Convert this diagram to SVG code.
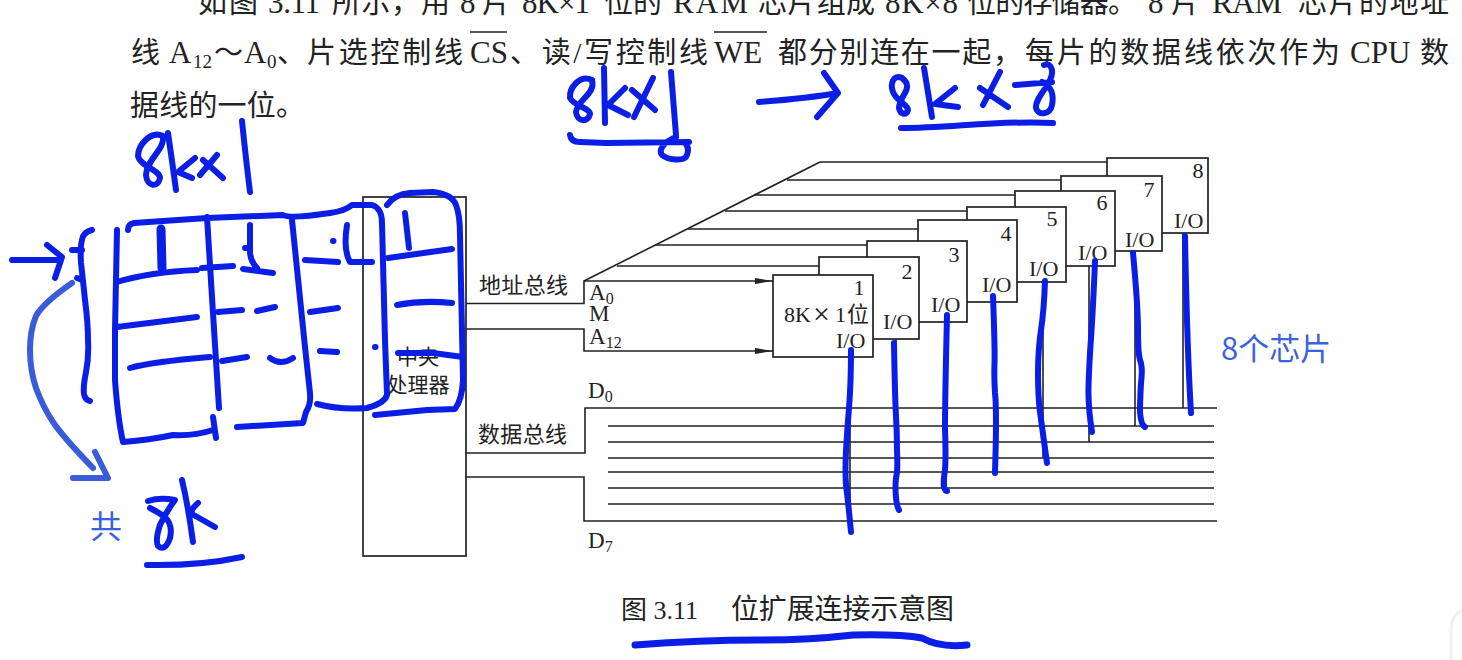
<svg xmlns="http://www.w3.org/2000/svg" width="1462" height="660" viewBox="0 0 1462 660">
<style>
text{font-family:"Liberation Serif","Noto Sans CJK SC",serif;fill:#222}
.b{font-size:29px}
.e{font-size:31px}
.s{font-size:19px}
.l{font-size:22px}
.a{font-size:23px}
.u{font-size:16px}
.c{font-size:21px}
.w{fill:none;stroke:#222;stroke-width:1.6}
.chip{fill:#fff;stroke:#222;stroke-width:1.7}
.ink{fill:none;stroke:#0a1ee6;stroke-width:6;stroke-linecap:round;stroke-linejoin:round}
.lt{fill:none;stroke:#3a5cd8;stroke-width:6;stroke-linecap:round;stroke-linejoin:round}
.n{text-anchor:middle}
.sans{font-family:"Noto Sans CJK SC","Noto Sans",sans-serif;fill:#3a62dc}
</style>
<defs>
<marker id="ah" markerUnits="userSpaceOnUse" markerWidth="18" markerHeight="8" refX="18" refY="4" orient="auto"><path d="M0,1 L18,4 L0,7 Z" fill="#222"/></marker>
</defs>
<rect width="1462" height="660" fill="#fff"/>
<path d="M1462,610Q1451,616 1451,630V660" fill="none" stroke="#efefef" stroke-width="3"/>
<g id="paragraph">
<text class="b" x="198" y="13" textLength="60">如图</text>
<text class="e" x="268" y="13" textLength="52">3.11</text>
<text class="b" x="332" y="13" textLength="88">所示，</text>
<text class="b" x="421" y="13">用</text>
<text class="e" x="460" y="13">8</text>
<text class="b" x="482" y="13">片</text>
<text class="e" x="522" y="13" textLength="68">8K×1</text>
<text class="b" x="604" y="13" textLength="58">位的</text>
<text class="e" x="673" y="13" textLength="75">RAM</text>
<text class="b" x="758" y="13" textLength="117">芯片组成</text>
<text class="e" x="885" y="13" textLength="73">8K×8</text>
<text class="b" x="967" y="13" textLength="170">位的存储器。</text>
<text class="e" x="1148" y="13">8</text>
<text class="b" x="1171" y="13">片</text>
<text class="e" x="1212" y="13" textLength="70">RAM</text>
<text class="b" x="1298" y="13" textLength="151">芯片的地址</text>
<text class="b" x="131" y="63">线</text>
<text class="e" x="169" y="63">A</text>
<text class="s" x="193" y="68">12</text>
<text class="b" x="214" y="63">～</text>
<text class="e" x="244" y="63">A</text>
<text class="s" x="267" y="68">0</text>
<text class="b" x="277" y="63">、</text>
<text class="b" x="307" y="63" textLength="156">片选控制线</text>
<text class="e" x="470" y="63">CS</text>
<text class="b" x="510" y="63" textLength="198">、读/写控制线</text>
<text class="e" x="714" y="63">WE</text>
<text class="b" x="778" y="63" textLength="244">都分别连在一起，</text>
<text class="b" x="1025" y="63" textLength="315">每片的数据线依次作为</text>
<text class="e" x="1350" y="63">CPU</text>
<text class="b" x="1420" y="63">数</text>
<path class="w" d="M470,32H507M714,32H767"/>
<text class="b" x="130" y="116" textLength="175">据线的一位。</text>
</g>
<g id="connectors">
<path class="w" d="M820,162H1107M787,180H1061M755,195H1015M725,211H967M688,229H918M655,245H867M617,266H819"/>
<path class="w" d="M584,281L820,162"/>
<path class="w" d="M466,303.500H584V281H773" marker-end="url(#ah)"/>
<path class="w" d="M466,329H584V351H773" marker-end="url(#ah)"/>
<path class="w" d="M466,453H585V408H1217M466,477H584V521H1217"/>
<path class="w" d="M608,426H1214M608,442H1214M608,458H1214M608,472H1214M608,488H1214M608,504H1214"/>
<path class="w" d="M1183,233V408M1135,251V426M1089,266V442M1043,282V458M995,302V472M946,322V488M896,339V504M850,357V521"/>
</g>
<g id="cpu"><rect class="chip" x="363" y="197" width="103" height="359"/>
<text class="c n" x="418" y="364">中央</text><text class="c n" x="418" y="392">处理器</text></g>
<g id="chip-8"><rect class="chip" x="1107" y="158" width="101" height="75"/><text class="l n" x="1198" y="178">8</text><text class="l" x="1174" y="228">I/O</text></g>
<g id="chip-7"><rect class="chip" x="1061" y="176" width="101" height="75"/><text class="l n" x="1149" y="197">7</text><text class="l" x="1125" y="247">I/O</text></g>
<g id="chip-6"><rect class="chip" x="1015" y="191" width="100" height="75"/><text class="l n" x="1102" y="210">6</text><text class="l" x="1078" y="260">I/O</text></g>
<g id="chip-5"><rect class="chip" x="967" y="207" width="99" height="75"/><text class="l n" x="1052" y="226">5</text><text class="l" x="1029" y="276">I/O</text></g>
<g id="chip-4"><rect class="chip" x="918" y="220" width="99" height="82"/><text class="l n" x="1006" y="241">4</text><text class="l" x="982" y="292">I/O</text></g>
<g id="chip-3"><rect class="chip" x="867" y="241" width="100" height="81"/><text class="l n" x="954" y="262">3</text><text class="l" x="931" y="312">I/O</text></g>
<g id="chip-2"><rect class="chip" x="819" y="257" width="100" height="82"/><text class="l n" x="907" y="279">2</text><text class="l" x="883" y="329">I/O</text></g>
<g id="chip-1"><rect class="chip" x="773" y="275" width="100" height="82"/><text class="l n" x="859" y="295">1</text><text class="l" x="784" y="322">8K</text><text x="813" y="324" font-size="30">×</text><text class="l" x="835" y="322">1</text><text class="l" x="847" y="322">位</text><text class="l" x="836" y="348">I/O</text></g>
<g id="labels">
<text class="l" x="479" y="293" textLength="89">地址总线</text>
<text class="l" x="478" y="442" textLength="89">数据总线</text>
<text class="a" x="589" y="300">A<tspan class="u" dy="4">0</tspan></text>
<text class="a" x="589" y="321">M</text>
<text class="a" x="589" y="344">A<tspan class="u" dy="4">12</tspan></text>
<text class="a" x="588" y="398">D<tspan class="u" dy="4">0</tspan></text>
<text class="a" x="588" y="548">D<tspan class="u" dy="4">7</tspan></text>
</g>
<g id="caption"><text x="621" y="619" font-size="26">图 3.11</text><text x="731" y="619" font-size="28" textLength="223">位扩展连接示意图</text></g>
<g id="ink">
<path class="ink" d="M163,136C150,130 138,146 138,156C140,166 160,170 160,178C158,188 147,187 146,175C146,160 165,150 163,136M168,133Q172,160 176,190M195,158L178,172L192,178M217,155L200,175M203,160L223,178M242,121Q246,160 250,192"/>
<path class="ink" d="M592,80C580,74 569,88 570,98C574,106 590,108 590,114C588,123 577,122 576,112C577,100 596,94 592,80M604,68L605,123M625,88L608,105L628,115M653,78L634,117M632,90L655,110M671,72L676,135M570,135Q571,142 580,142L606,143L689,142M676,137C664,142 658,150 662,155C668,160 685,162 687,155C689,150 688,147 686,144"/>
<path class="ink" d="M759,102C785,100 815,97 838,93M824,73L838,93L817,117"/>
<path class="ink" d="M902,78C893,74 890,84 893,92C897,102 908,104 908,110C906,116 900,114 899,108C899,96 915,88 902,78M924,68L932,117M955,88L935,104L958,107M1000,72L983,105M980,88L1008,107M1015,85L1052,82M1044,65C1052,62 1054,72 1050,80C1044,92 1035,100 1036,108C1038,116 1050,115 1052,105C1055,90 1048,85 1042,82M901,128C950,128 1000,120 1053,123"/>
<path class="ink" d="M12,260H60M47,245L62,257L55,278M92,230Q83,232 82,240Q80,247 81,263Q83,280 85,300Q88,323 88,340Q89,357 86,372Q83,387 84,394Q85,400 90,401M72,250L82,250M77,278L82,280"/>
<path class="ink" d="M117,230L115,330L115,380Q118,420 123,442Q150,440 173,435Q195,436 213,430M213,417L216,438M128,230Q128,224 134,223L207,218L283,215Q290,219 330,213Q345,211 352,205L372,205Q382,208 382,223L385,340L387,395Q385,403 367,408Q340,410 317,404M207,217L213,313L219,408M292,220L305,347L310,393Q311,405 306,412L303,423L237,427M387,205Q395,194 410,193L433,192Q452,194 456,205Q460,215 460,235L463,380Q462,400 455,409L427,410L375,415"/>
<path class="ink" d="M117,282Q150,272 197,270M117,327L197,317M130,368Q150,362 210,357M202,268L233,266M250,225L250,253Q251,262 257,268M245,248L250,248M243,269L273,273M218,312L242,310M257,311L275,307M222,361L247,357M270,358Q280,366 293,358M305,260L338,262M333,241L333.500,241M347,225Q343,250 350,262L372,262M310,312L338,308M320,351L337,352M375,347L375.500,347M405,213L409,248M388,258Q417,254 452,249M397,305Q423,300 452,303M398,353L433,353L463,357"/>
<path class="ink" style="stroke-width:9" d="M161,229L162,268"/>
<path class="lt" d="M72,283Q43,303 36,316Q30,330 30,350Q30,370 36,388Q43,407 53,422Q63,437 93,468M95,452L108,478L73,478"/>
<path class="ink" d="M148,501Q160,497 175,500Q166,512 160,525Q155,540 158,546Q165,552 170,538Q173,525 165,517Q158,512 150,508M182,480Q188,505 193,542M198,503Q190,510 192,514L215,527M147,565Q200,566 242,557"/>
<path class="ink" d="M851,350Q851,383 849,408Q847,433 846,451Q845,470 846,485Q848,500 851,532M894,343Q895,400 896,416Q897,433 897,451Q898,470 896,478Q895,487 896,498Q897,507 899,510M947,315Q945,400 945,428Q946,457 945,470Q943,483 944,487Q945,491 947,491M993,296Q995,350 994.500,363Q994,377 995,393Q997,410 995,473M1045,281Q1044,310 1041,330Q1038,350 1038,373Q1038,397 1040,412Q1042,427 1047,463M1095,261Q1093,310 1091,338Q1089,367 1088.500,387Q1088,407 1092,432M1133,253Q1138,307 1138,330Q1138,353 1140,360Q1143,367 1141,383Q1140,400 1140,412Q1141,425 1145,427M1185,236Q1187,347 1191,413"/>
<path class="ink" style="stroke-width:7" d="M635,645Q700,640 760,640Q810,640 853,635Q900,634 922,638Q940,648 967,645"/>
</g>
<g id="notes">
<text class="sans" x="90" y="538" font-size="32">共</text>
<text class="sans" x="1221" y="360" font-size="31">8个芯片</text>
</g>
</svg>
